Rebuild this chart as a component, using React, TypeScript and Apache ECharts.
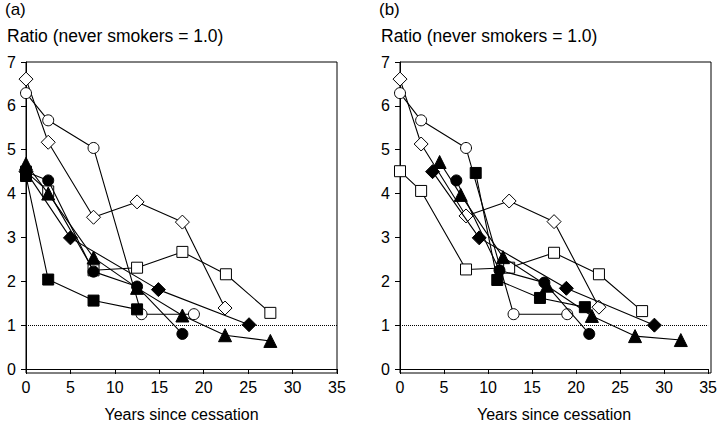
import React, { useEffect, useRef } from "react";
import * as echarts from "echarts";

// Panel (a)
const openCircleA = [[0, 6.29], [2.5, 5.67], [7.6, 5.04], [13, 1.25], [18.9, 1.25]];
const openDiamondA = [[0, 6.61], [2.5, 5.17], [7.6, 3.46], [12.5, 3.81], [17.6, 3.35], [22.4, 1.39]];
const openSquareA = [[0, 4.5], [2.5, 4.05], [7.6, 2.25], [12.5, 2.31], [17.6, 2.67], [22.5, 2.16], [27.5, 1.28]];
const filledCircleA = [[0, 4.5], [2.5, 4.3], [7.6, 2.22], [12.5, 1.88], [17.6, 0.8]];
const filledDiamondA = [[0, 4.5], [5, 2.99], [14.9, 1.81], [25.1, 1.01]];
const filledTriangleA = [[0, 4.68], [2.5, 4.0], [7.6, 2.54], [12.5, 1.85], [17.6, 1.22], [22.4, 0.77], [27.5, 0.64]];
const filledSquareA = [[0, 4.4], [2.5, 2.04], [7.6, 1.56], [12.5, 1.36]];

// Panel (b)
const openCircleB = [[0, 6.29], [2.4, 5.67], [7.5, 5.04], [12.9, 1.25], [19, 1.25]];
const openDiamondB = [[0, 6.61], [2.4, 5.13], [7.5, 3.49], [12.4, 3.83], [17.5, 3.36], [22.6, 1.41]];
const openSquareB = [[0, 4.51], [2.4, 4.06], [7.5, 2.27], [12.4, 2.31], [17.5, 2.65], [22.6, 2.16], [27.5, 1.32]];
const filledCircleB = [[6.4, 4.3], [11.3, 2.25], [16.4, 1.97], [21.5, 0.8]];
const filledDiamondB = [[3.7, 4.5], [9, 2.99], [18.9, 1.84], [28.9, 1.0]];
const filledTriangleB = [[4.5, 4.72], [6.9, 3.97], [11.7, 2.55], [16.7, 1.9], [21.8, 1.21], [26.7, 0.75], [31.9, 0.66]];
const filledSquareB = [[8.6, 4.47], [11.05, 2.03], [15.9, 1.62], [21, 1.41]];

const xTicks = [0, 5, 10, 15, 20, 25, 30, 35];
const yTicks = [0, 1, 2, 3, 4, 5, 6, 7];
const panelLabels = ["(a)", "(b)"];
const yTitle = "Ratio (never smokers = 1.0)";
const xTitle = "Years since cessation";

const FONT = "Liberation Sans, Arial, Helvetica, sans-serif";

type Spec = { data: number[][]; symbol: string; size: number; filled: boolean };

function seriesFor(specs: Spec[], idx: number) {
  return specs.map((s, i) => ({
    type: "line",
    xAxisIndex: idx,
    yAxisIndex: idx,
    data: s.data,
    symbol: s.symbol,
    symbolSize: s.size,
    showAllSymbol: true,
    lineStyle: { color: "#000", width: 1.1 },
    itemStyle: {
      color: s.filled ? "#000" : "#fff",
      borderColor: "#000",
      borderWidth: 1,
    },
    emphasis: { disabled: true },
    silent: true,
    z: s.filled ? 3 : 2,
    markLine:
      i === 0
        ? {
            silent: true,
            symbol: "none",
            label: { show: false },
            lineStyle: { color: "#000", type: "dotted", width: 1 },
            data: [{ yAxis: 1 }],
          }
        : undefined,
  }));
}

export default function App() {
  const ref = useRef<HTMLDivElement>(null);
  useEffect(() => {
    if (!ref.current) return;
    const chart = echarts.init(ref.current, undefined, { renderer: "svg" });
    const specsA: Spec[] = [
      { data: openCircleA, symbol: "circle", size: 11, filled: false },
      { data: openDiamondA, symbol: "diamond", size: 14, filled: false },
      { data: openSquareA, symbol: "rect", size: 11, filled: false },
      { data: filledCircleA, symbol: "circle", size: 11, filled: true },
      { data: filledDiamondA, symbol: "diamond", size: 14, filled: true },
      { data: filledTriangleA, symbol: "triangle", size: 13, filled: true },
      { data: filledSquareA, symbol: "rect", size: 11, filled: true },
    ];
    const specsB: Spec[] = [
      { data: openCircleB, symbol: "circle", size: 11, filled: false },
      { data: openDiamondB, symbol: "diamond", size: 14, filled: false },
      { data: openSquareB, symbol: "rect", size: 11, filled: false },
      { data: filledCircleB, symbol: "circle", size: 11, filled: true },
      { data: filledDiamondB, symbol: "diamond", size: 14, filled: true },
      { data: filledTriangleB, symbol: "triangle", size: 13, filled: true },
      { data: filledSquareB, symbol: "rect", size: 11, filled: true },
    ];
    const grids = [
      { left: 26, top: 62, width: 311, height: 311 },
      { left: 400, top: 62, width: 311, height: 311 },
    ];
    const xAxis = grids.map((_, i) => ({
      type: "value",
      gridIndex: i,
      min: xTicks[0],
      max: xTicks[xTicks.length - 1],
      interval: 5,
      name: xTitle,
      nameLocation: "middle",
      nameGap: 37,
      nameTextStyle: { color: "#000", fontSize: 16, fontFamily: FONT },
      axisLine: { show: true, lineStyle: { color: "#000", width: 1 } },
      axisTick: { show: true, length: 5, lineStyle: { color: "#000" } },
      axisLabel: { color: "#000", fontSize: 16, fontFamily: FONT, margin: 10 },
      splitLine: { show: false },
    }));
    const yAxis = grids.map((_, i) => ({
      type: "value",
      gridIndex: i,
      min: yTicks[0],
      max: yTicks[yTicks.length - 1],
      interval: 1,
      axisLine: { show: true, lineStyle: { color: "#000", width: 1 } },
      axisTick: { show: true, length: 5, lineStyle: { color: "#000" } },
      axisLabel: { color: "#000", fontSize: 16, fontFamily: FONT, margin: 10 },
      splitLine: { show: false },
    }));
    const graphic: any[] = [];
    [0, 1].forEach((i) => {
      const gx = grids[i].left;
      graphic.push({
        type: "text",
        left: gx - 21,
        top: 1,
        style: { text: panelLabels[i], fill: "#000", fontSize: 17, fontFamily: FONT },
      });
      graphic.push({
        type: "text",
        left: gx - 19,
        top: 27,
        style: { text: yTitle, fill: "#000", fontSize: 17.5, fontFamily: FONT },
      });
      graphic.push({
        type: "rect",
        shape: { x: gx, y: grids[i].top, width: grids[i].width, height: grids[i].height },
        style: { fill: "none", stroke: "#000", lineWidth: 1 },
        silent: true,
        z: 0,
      });
    });
    chart.setOption({
      animation: false,
      backgroundColor: "#fff",
      grid: grids,
      xAxis,
      yAxis,
      graphic,
      series: [...seriesFor(specsA, 0), ...seriesFor(specsB, 1)],
    });
    return () => chart.dispose();
  }, []);
  return (
    <div
      ref={ref}
      style={{ position: "fixed", left: 0, top: 0, width: 720, height: 427, background: "#fff" }}
    />
  );
}
